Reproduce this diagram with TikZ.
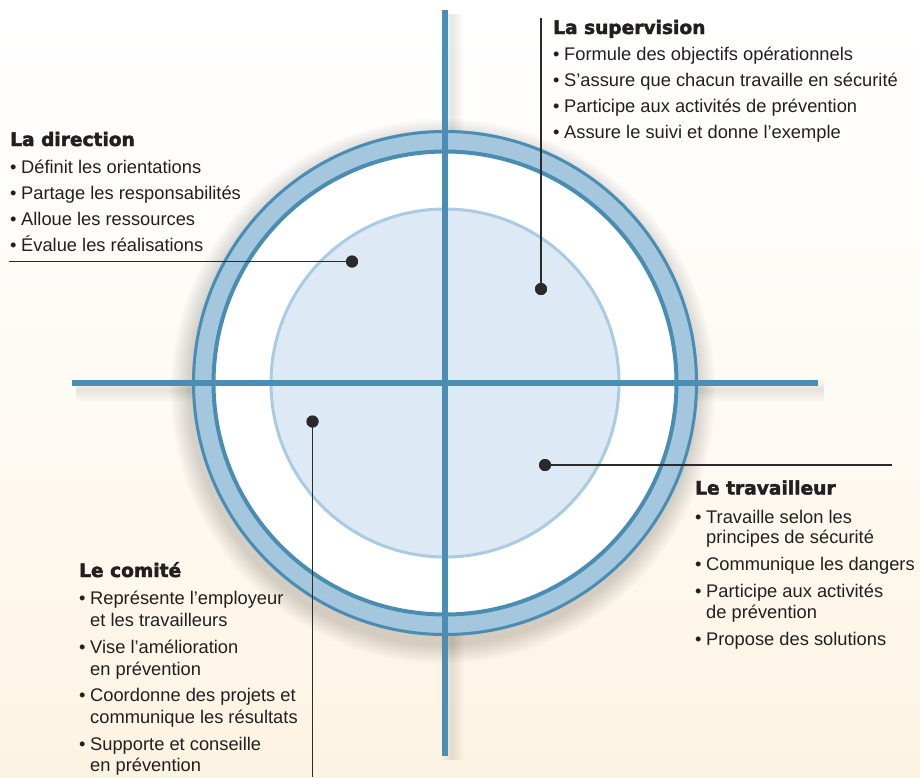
\documentclass[tikz,border=0pt]{standalone}
\usepackage{fontspec}
\setmainfont{Liberation Sans}
\newfontfamily\headfamily{DejaVu Sans Bold}[FakeBold=2.2]
\definecolor{bgcream}{HTML}{FDF3E2}
\definecolor{lineblue}{HTML}{4A8FB3}
\definecolor{ringfill}{HTML}{A5C7DE}
\definecolor{ringdark}{HTML}{4A8DB2}
\definecolor{innerfill}{HTML}{DDEAF5}
\definecolor{innerborder}{HTML}{A9CCE2}
\definecolor{textcol}{HTML}{231F20}
\definecolor{leadcol}{HTML}{2A2A2A}
\newcommand{\bul}{\makebox[11pt][l]{•}}
\tikzset{
  itemtxt/.style={anchor=base west, inner sep=0pt, text=textcol, font=\fontsize{18.3}{21}\selectfont},
  headtxt/.style={anchor=base west, inner sep=0pt, text=textcol, font=\headfamily\fontsize{18.6}{21}\selectfont},
  crossline/.style={draw=lineblue, line width=6.5pt},
  leader/.style={draw=leadcol, line width=1.3pt},
  dotnode/.style={circle, fill=leadcol, inner sep=0pt, minimum size=12pt}
}
\begin{document}
\begin{tikzpicture}[x=1pt,y=-1pt]
\useasboundingbox (0,0) rectangle (920,777);
% background
\shade[top color=white, bottom color=bgcream, middle color=bgcream!35] (0,0) rectangle (920,777);
% soft shadows
\foreach \i in {1,...,14}
  \fill[black, opacity=0.010] (443,391) circle[radius={253pt+\i*1.4pt}];
\foreach \w in {2,5,...,23}{
  \draw[black, opacity=0.012, line width=\w pt] (452,14) -- (452,760);
  \draw[black, opacity=0.012, line width=\w pt] (76,390) -- (824,390);
}
% ring
\fill[ringfill, even odd rule] (445,383) circle[radius=253pt] (445,383) circle[radius=230pt];
\fill[white] (445,383) circle[radius=230pt];
\draw[ringdark, line width=3pt] (445,383) circle[radius=251.5pt];
\draw[ringdark, line width=4pt] (445,383) circle[radius=231.5pt];
% inner circle
\draw[innerborder, fill=innerfill, line width=3pt] (445,383) circle[radius=174pt];
% cross
\coordinate (vtop) at (445,10);
\coordinate (vbot) at (445,756);
\coordinate (hleft) at (72,383);
\coordinate (hright) at (818,383);
\draw[crossline] (vtop) -- (vbot);
\draw[crossline] (hleft) -- (hright);
% dots and leaders
\node[dotnode] (ddir) at (352,261.5) {};
\node[dotnode] (dsup) at (541,289) {};
\node[dotnode] (dtra) at (545,465) {};
\node[dotnode] (dcom) at (312.5,421.5) {};
\coordinate (ldir) at (9,261.5);
\coordinate (lsup) at (541,18);
\coordinate (ltra) at (892,465);
\coordinate (lcom) at (312.5,777);
\draw[leader] (ldir) -- (ddir.center);
\draw[leader] (lsup) -- (dsup.center);
\draw[leader] (dtra.center) -- (ltra);
\draw[leader] (dcom.center) -- (lcom);
\node[dotnode] at (ddir) {};
\node[dotnode] at (dsup) {};
\node[dotnode] at (dtra) {};
\node[dotnode] at (dcom) {};
% La direction
\node[headtxt] (hdir) at (10,146) {La direction};
\node[itemtxt] (dir1) at (10,173.5) {\bul Définit les orientations};
\node[itemtxt] (dir2) at (10,199.5) {\bul Partage les responsabilités};
\node[itemtxt] (dir3) at (10,225.5) {\bul Alloue les ressources};
\node[itemtxt] (dir4) at (10,251.5) {\bul Évalue les réalisations};
% La supervision
\node[headtxt] (hsup) at (553,34) {La supervision};
\node[itemtxt] (sup1) at (553,60.5) {\bul Formule des objectifs opérationnels};
\node[itemtxt] (sup2) at (553,86.5) {\bul S’assure que chacun travaille en sécurité};
\node[itemtxt] (sup3) at (553,112.5) {\bul Participe aux activités de prévention};
\node[itemtxt] (sup4) at (553,138.5) {\bul Assure le suivi et donne l’exemple};
% Le travailleur
\node[headtxt] (htra) at (695,494.5) {Le travailleur};
\node[itemtxt] (tra1) at (695,523) {\bul Travaille selon les};
\node[itemtxt] (tra1b) at (706,543.5) {principes de sécurité};
\node[itemtxt] (tra2) at (695,570.5) {\bul Communique les dangers};
\node[itemtxt] (tra3) at (695,597) {\bul Participe aux activités};
\node[itemtxt] (tra3b) at (706,618.5) {de prévention};
\node[itemtxt] (tra4) at (695,645.5) {\bul Propose des solutions};
% Le comité
\node[headtxt] (hcom) at (79,577) {Le comité};
\node[itemtxt] (com1) at (79,604) {\bul Représente l’employeur};
\node[itemtxt] (com1b) at (90,626.5) {et les travailleurs};
\node[itemtxt] (com2) at (79,653) {\bul Vise l’amélioration};
\node[itemtxt] (com2b) at (90,675) {en prévention};
\node[itemtxt] (com3) at (79,701.5) {\bul Coordonne des projets et};
\node[itemtxt] (com3b) at (90,723.5) {communique les résultats};
\node[itemtxt] (com4) at (79,750) {\bul Supporte et conseille};
\node[itemtxt] (com4b) at (90,771.5) {en prévention};
\end{tikzpicture}
\end{document}
